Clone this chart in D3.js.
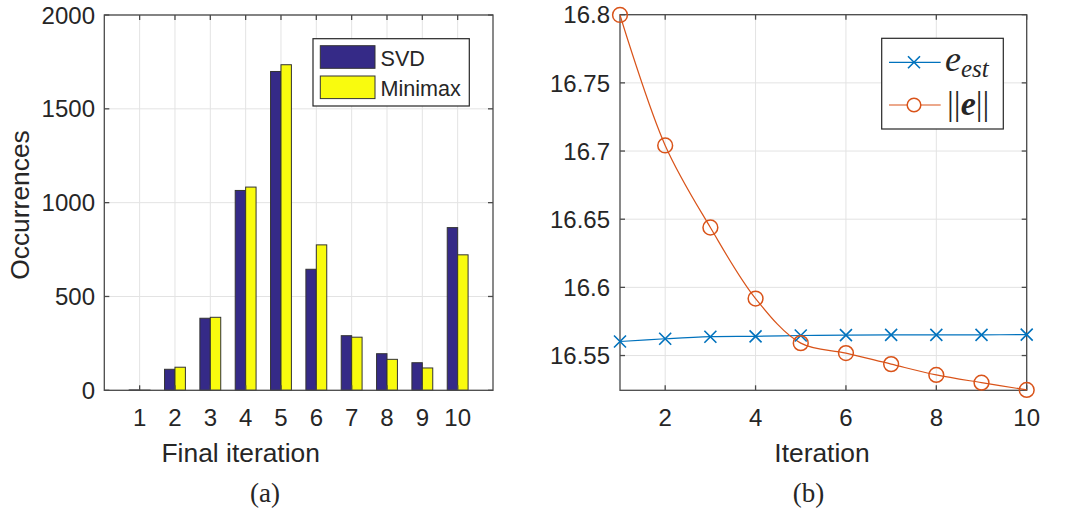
<!DOCTYPE html>
<html>
<head>
<meta charset="utf-8">
<script src="https://cdn.jsdelivr.net/npm/d3@7"></script>
<style>
  body { margin: 0; background: #fff; }
  svg text { font-family: "Liberation Sans", Arial, sans-serif; fill: #262626; }
  .serif { font-family: "Liberation Serif", "Times New Roman", serif; }
  .grid line { stroke: #e3e3e3; stroke-width: 1; }
  .frame { fill: none; stroke: #4a4a4a; stroke-width: 1.3; }
  .tick-mark { stroke: #4a4a4a; stroke-width: 1.3; }
</style>
</head>
<body>
<svg id="fig" width="1065" height="509"></svg>
<script>
// left panel: histogram of final iteration
const iterations = [1, 2, 3, 4, 5, 6, 7, 8, 9, 10];
const svdCounts = [2, 112, 384, 1065, 1699, 645, 291, 195, 147, 867];
const minimaxCounts = [1, 123, 389, 1083, 1735, 775, 283, 165, 119, 722];
const countTicks = [0, 500, 1000, 1500, 2000];

// right panel: error per iteration
const eEst = [16.5603, 16.5623, 16.5638, 16.5641, 16.5647, 16.5650, 16.5652, 16.5652, 16.5652, 16.5653];
const eNorm = [16.7998, 16.7041, 16.6439, 16.5918, 16.5591, 16.5518, 16.5437, 16.5358, 16.5301, 16.5248];
const errTicks = [16.55, 16.6, 16.65, 16.7, 16.75, 16.8];
const iterTicks = [2, 4, 6, 8, 10];

const svg = d3.select("#fig");
const tickLen = 5;

// ---------- panel (a) ----------
const A = { left: 104.3, right: 493, top: 15, bottom: 390.3 };
const xA = d3.scaleLinear().domain([0, 11]).range([A.left, A.right]);
const yA = d3.scaleLinear().domain([0, 2000]).range([A.bottom, A.top]);
const half = xA(0.295) - xA(0);
const sub = d3.scaleBand().domain(["SVD", "Minimax"]).range([-half, half]);
const barColor = { SVD: "#352a87", Minimax: "#f9fb0e" };

const gA = svg.append("g");

gA.append("g").attr("class", "grid")
  .selectAll("line.v").data(iterations).enter().append("line")
  .attr("x1", d => xA(d)).attr("x2", d => xA(d))
  .attr("y1", A.top).attr("y2", A.bottom);
gA.append("g").attr("class", "grid")
  .selectAll("line.h").data(countTicks).enter().append("line")
  .attr("x1", A.left).attr("x2", A.right)
  .attr("y1", d => yA(d)).attr("y2", d => yA(d));

const barData = [];
iterations.forEach((it, i) => {
  barData.push({ it: it, key: "SVD", v: svdCounts[i] });
  barData.push({ it: it, key: "Minimax", v: minimaxCounts[i] });
});

gA.selectAll("rect.bar").data(barData).enter().append("rect")
  .attr("class", "bar")
  .attr("x", d => xA(d.it) + sub(d.key))
  .attr("y", d => yA(d.v))
  .attr("width", sub.bandwidth())
  .attr("height", d => yA(0) - yA(d.v))
  .attr("fill", d => barColor[d.key])
  .attr("stroke", "#333")
  .attr("stroke-width", 1);

// frame and ticks
gA.append("rect").attr("class", "frame")
  .attr("x", A.left).attr("y", A.top)
  .attr("width", A.right - A.left).attr("height", A.bottom - A.top);

iterations.forEach(d => {
  gA.append("line").attr("class", "tick-mark")
    .attr("x1", xA(d)).attr("x2", xA(d)).attr("y1", A.bottom).attr("y2", A.bottom - tickLen);
  gA.append("line").attr("class", "tick-mark")
    .attr("x1", xA(d)).attr("x2", xA(d)).attr("y1", A.top).attr("y2", A.top + tickLen);
});
countTicks.forEach(d => {
  gA.append("line").attr("class", "tick-mark")
    .attr("x1", A.left).attr("x2", A.left + tickLen).attr("y1", yA(d)).attr("y2", yA(d));
  gA.append("line").attr("class", "tick-mark")
    .attr("x1", A.right).attr("x2", A.right - tickLen).attr("y1", yA(d)).attr("y2", yA(d));
});

gA.selectAll("text.xt").data(iterations).enter().append("text")
  .attr("x", d => xA(d)).attr("y", 426)
  .attr("text-anchor", "middle").attr("font-size", 24)
  .text(d => d);
gA.selectAll("text.yt").data(countTicks).enter().append("text")
  .attr("x", 95).attr("y", d => yA(d)).attr("dy", "0.36em")
  .attr("text-anchor", "end").attr("font-size", 24)
  .text(d => d);

gA.append("text").attr("x", 240.7).attr("y", 461.5)
  .attr("text-anchor", "middle").attr("font-size", 26.4)
  .text("Final iteration");
gA.append("text")
  .attr("transform", "translate(28.5, 205) rotate(-90)")
  .attr("text-anchor", "middle").attr("font-size", 26.4)
  .text("Occurrences");

// legend (a)
const legA = gA.append("g");
legA.append("rect").attr("x", 313).attr("y", 38.7).attr("width", 156.3).attr("height", 67.3)
  .attr("fill", "#fff").attr("stroke", "#262626").attr("stroke-width", 1.2);
["SVD", "Minimax"].forEach((k, i) => {
  const y0 = 45.7 + i * 30.3;
  legA.append("rect").attr("x", 320.3).attr("y", y0).attr("width", 54.7).attr("height", 22.6)
    .attr("fill", barColor[k]).attr("stroke", "#333").attr("stroke-width", 1);
  legA.append("text").attr("x", 380.5).attr("y", y0 + 20).attr("font-size", 21.6).text(k);
});

svg.append("text").attr("class", "serif").attr("x", 265).attr("y", 502)
  .attr("text-anchor", "middle").attr("font-size", 27).text("(a)");

// ---------- panel (b) ----------
const B = { left: 620, right: 1026.7, top: 14.7, bottom: 390.3 };
const xB = d3.scaleLinear().domain([1, 10]).range([B.left, B.right]);
const yB = d3.scaleLinear().domain([16.5245, 16.8]).range([B.bottom, B.top]);

const gB = svg.append("g");
gB.append("g").attr("class", "grid")
  .selectAll("line").data(iterTicks).enter().append("line")
  .attr("x1", d => xB(d)).attr("x2", d => xB(d))
  .attr("y1", B.top).attr("y2", B.bottom);
gB.append("g").attr("class", "grid")
  .selectAll("line").data(errTicks).enter().append("line")
  .attr("x1", B.left).attr("x2", B.right)
  .attr("y1", d => yB(d)).attr("y2", d => yB(d));

gB.append("rect").attr("class", "frame")
  .attr("x", B.left).attr("y", B.top)
  .attr("width", B.right - B.left).attr("height", B.bottom - B.top);
iterTicks.forEach(d => {
  gB.append("line").attr("class", "tick-mark")
    .attr("x1", xB(d)).attr("x2", xB(d)).attr("y1", B.bottom).attr("y2", B.bottom - tickLen);
  gB.append("line").attr("class", "tick-mark")
    .attr("x1", xB(d)).attr("x2", xB(d)).attr("y1", B.top).attr("y2", B.top + tickLen);
});
errTicks.forEach(d => {
  gB.append("line").attr("class", "tick-mark")
    .attr("x1", B.left).attr("x2", B.left + tickLen).attr("y1", yB(d)).attr("y2", yB(d));
  gB.append("line").attr("class", "tick-mark")
    .attr("x1", B.right).attr("x2", B.right - tickLen).attr("y1", yB(d)).attr("y2", yB(d));
});

gB.selectAll("text.xt").data(iterTicks).enter().append("text")
  .attr("x", d => xB(d)).attr("y", 426)
  .attr("text-anchor", "middle").attr("font-size", 24)
  .text(d => d);
gB.selectAll("text.yt").data(errTicks).enter().append("text")
  .attr("x", 610).attr("y", d => yB(d)).attr("dy", "0.36em")
  .attr("text-anchor", "end").attr("font-size", 24)
  .text(d => d3.format("")(+d.toFixed(2)));

gB.append("text").attr("x", 822).attr("y", 461.5)
  .attr("text-anchor", "middle").attr("font-size", 26.4)
  .text("Iteration");

const blue = "#0072bd", orange = "#d95319";
const line = d3.line().x((d, i) => xB(i + 1)).y(d => yB(d)).curve(d3.curveCatmullRom);

gB.append("path").datum(eEst).attr("d", line)
  .attr("fill", "none").attr("stroke", blue).attr("stroke-width", 1.2);
gB.append("path").datum(eNorm).attr("d", line)
  .attr("fill", "none").attr("stroke", orange).attr("stroke-width", 1.2);

const cross = (g, cx, cy, s) => {
  g.append("path")
    .attr("d", `M${cx - s},${cy - s}L${cx + s},${cy + s}M${cx - s},${cy + s}L${cx + s},${cy - s}`)
    .attr("stroke", blue).attr("stroke-width", 1.6).attr("fill", "none");
};
eEst.forEach((d, i) => cross(gB, xB(i + 1), yB(d), 6));
gB.selectAll("circle.m").data(eNorm).enter().append("circle")
  .attr("cx", (d, i) => xB(i + 1)).attr("cy", d => yB(d)).attr("r", 7.4)
  .attr("fill", "none").attr("stroke", orange).attr("stroke-width", 1.5);

// legend (b)
const legB = gB.append("g");
legB.append("rect").attr("x", 881.7).attr("y", 38.3).attr("width", 121.6).attr("height", 90.7)
  .attr("fill", "#fff").attr("stroke", "#262626").attr("stroke-width", 1.2);
legB.append("line").attr("x1", 889).attr("x2", 940.7).attr("y1", 62.3).attr("y2", 62.3)
  .attr("stroke", blue).attr("stroke-width", 1.2);
cross(legB, 914, 62.3, 6);
legB.append("line").attr("x1", 889).attr("x2", 940.7).attr("y1", 105).attr("y2", 105)
  .attr("stroke", orange).attr("stroke-width", 1.2);
legB.append("circle").attr("cx", 914).attr("cy", 105).attr("r", 6.8)
  .attr("fill", "#fff").attr("stroke", orange).attr("stroke-width", 1.5);

const t1 = legB.append("text").attr("class", "serif").attr("x", 945).attr("y", 71)
  .attr("font-size", 36).attr("font-style", "italic");
t1.append("tspan").text("e");
t1.append("tspan").attr("font-size", 25).attr("dy", 6).text("est");

const t2 = legB.append("text").attr("class", "serif").attr("x", 947).attr("y", 115)
  .attr("font-size", 34);
t2.append("tspan").text("||");
t2.append("tspan").attr("font-style", "italic").attr("font-weight", "bold").text("e");
t2.append("tspan").text("||");

svg.append("text").attr("class", "serif").attr("x", 808.5).attr("y", 502)
  .attr("text-anchor", "middle").attr("font-size", 27).text("(b)");
</script>
</body>
</html>
